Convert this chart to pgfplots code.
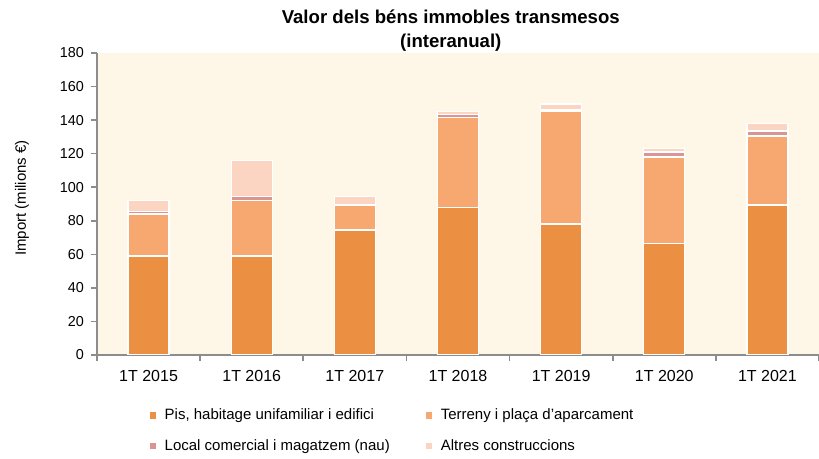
\documentclass[border=0pt]{standalone}
\usepackage{pgfplots}
\pgfplotsset{compat=1.18}
\usepackage{fontspec}
\setmainfont{Liberation Sans}
\definecolor{cpis}{HTML}{EB8F43}
\definecolor{cterr}{HTML}{F7A870}
\definecolor{cloc}{HTML}{D99594}
\definecolor{calt}{HTML}{FBD5C2}
\definecolor{bgcream}{HTML}{FEF6E6}
\definecolor{axgray}{HTML}{8C8C8C}

\begin{document}
\begin{tikzpicture}
\path[use as bounding box] (-48.5pt,-52pt) rectangle (361pt,177.5pt);
\begin{axis}[
  scale only axis,
  width=361pt, height=151pt,
  ybar stacked,
  bar width=20.5pt,
  xmin=-0.5, xmax=6.5,
  ymin=0, ymax=180,
  ytick={0,20,...,180},
  xtick={-0.5,0.5,...,6.5},
  x tick label as interval,
  xticklabels={1T 2015,1T 2016,1T 2017,1T 2018,1T 2019,1T 2020,1T 2021},
  axis x line*=bottom,
  axis y line*=left,
  axis line style={axgray, line width=0.8pt},
  tick style={axgray, line width=0.8pt},
  tick align=outside,
  major tick length=3pt,
  axis background/.style={fill=bgcream},
  /pgf/number format/assume math mode=true,
  yticklabel style={font=\fontsize{7.2}{8}\selectfont},
  xticklabel style={font=\fontsize{8}{9}\selectfont, yshift=-1pt},
  ylabel={Import (milions €)},
  ylabel style={font=\fontsize{7.5}{8}\selectfont, at={(axis description cs:-0.104,0.52)}, anchor=center},
  title={Valor dels béns immobles transmesos\\(interanual)},
  title style={font=\bfseries\fontsize{9.3}{12}\selectfont, align=center, at={(axis description cs:0.49,1)}, anchor=south, yshift=-8.5pt},
  every axis plot/.append style={draw=white, line width=0.7pt},
  legend columns=2,
  legend cell align=left,
  legend image code/.code={\fill[#1,draw=none] (0pt,-1.6pt) rectangle (3.2pt,1.6pt); \path (5.2pt,0pt);},
  legend style={at={(axis description cs:0.064,-0.15)}, anchor=north west, draw=none, fill=none,
    font=\fontsize{7.5}{8}\selectfont, row sep=4.3pt},
]
\addplot[fill=cpis] coordinates {(0,59) (1,59) (2,74.5) (3,88) (4,78) (5,66.3) (6,89.5)};
\addlegendentry{\makebox[128.5pt][l]{Pis, habitage unifamiliar i edifici}}
\addplot[fill=cterr] coordinates {(0,25) (1,33) (2,14.7) (3,53.5) (4,67.5) (5,51.7) (6,41)};
\addlegendentry{Terreny i plaça d'aparcament}
\addplot[fill=cloc] coordinates {(0,1.5) (1,2.5) (2,0.3) (3,1.7) (4,0.5) (5,3) (6,3)};
\addlegendentry{\makebox[128.5pt][l]{Local comercial i magatzem (nau)}}
\addplot[fill=calt] coordinates {(0,6.5) (1,21.5) (2,5) (3,2) (4,3.5) (5,2) (6,4.6)};
\addlegendentry{Altres construccions}
\end{axis}
\end{tikzpicture}
\end{document}
